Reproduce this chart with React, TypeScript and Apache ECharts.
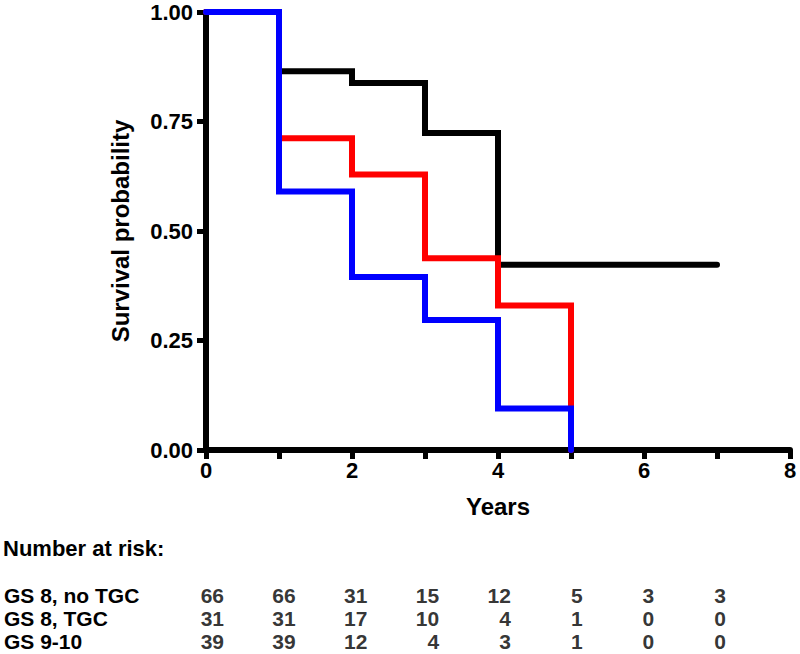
import React, { useEffect, useRef } from "react";
import * as echarts from "echarts";

// Kaplan-Meier step data (years, survival probability)
const groups = ["GS 8, no TGC", "GS 8, TGC", "GS 9-10"];
const groupColors = ["#000000", "#ff0000", "#0000ff"];

const timesNoTGC = [0, 1, 2, 3, 4, 7];
const survNoTGC = [1, 0.865, 0.838, 0.724, 0.423, 0.423];

const timesTGC = [0, 1, 2, 3, 4, 5];
const survTGC = [1, 0.712, 0.629, 0.438, 0.33, 0];

const times910 = [0, 1, 2, 3, 4, 5];
const surv910 = [1, 0.59, 0.395, 0.297, 0.095, 0];

// Number at risk table
const riskYears = [0, 1, 2, 3, 4, 5, 6, 7];
const riskNoTGC = [66, 66, 31, 15, 12, 5, 3, 3];
const riskTGC = [31, 31, 17, 10, 4, 1, 0, 0];
const risk910 = [39, 39, 12, 4, 3, 1, 0, 0];

const xTicks = [0, 2, 4, 6, 8];

const FONT = "'Liberation Sans', Arial, Helvetica, sans-serif";

export default function App() {
  const ref = useRef<HTMLDivElement>(null);

  useEffect(() => {
    document.body.style.margin = "0";
    if (!ref.current) return;
    const chart = echarts.init(ref.current, undefined, { renderer: "svg" });

    const curves = [
      [timesNoTGC, survNoTGC],
      [timesTGC, survTGC],
      [times910, surv910],
    ];
    const riskRows = [riskNoTGC, riskTGC, risk910];

    const lineSeries = curves.map(([t, s], i) => ({
      type: "line",
      name: groups[i],
      xAxisIndex: 0,
      yAxisIndex: 0,
      step: "end",
      showSymbol: false,
      symbol: "none",
      clip: false,
      silent: true,
      data: (t as number[]).map((x, k) => [x, (s as number[])[k]]),
      lineStyle: { color: groupColors[i], width: 6, cap: "round", join: "miter" },
      itemStyle: { color: groupColors[i] },
      z: 3 + i,
    }));

    const tableData: any[] = [];
    riskRows.forEach((row, g) => {
      row.forEach((v, k) => tableData.push([riskYears[k], g, v]));
    });

    const labelStyle = {
      color: "#000",
      fontFamily: FONT,
      fontWeight: "bold" as const,
      fontSize: 22,
    };
    const tableStyle = { ...labelStyle, fontSize: 21, lineHeight: 21 };

    chart.setOption({
      animation: false,
      backgroundColor: "#ffffff",
      grid: [
        { left: 206, top: 12, width: 584, height: 438 },
        { left: 224, top: 584, width: 502, height: 69 },
      ],
      xAxis: [
        {
          gridIndex: 0,
          type: "value",
          min: 0,
          max: 8,
          interval: 1,
          axisLine: { show: true, lineStyle: { color: "#000", width: 6 } },
          axisTick: { show: true, length: 9, lineStyle: { color: "#000", width: 5 } },
          axisLabel: {
            ...labelStyle,
            margin: 9,
            formatter: (v: number) => (xTicks.includes(v) ? String(v) : ""),
          },
          splitLine: { show: false },
          name: "Years",
          nameLocation: "middle",
          nameGap: 44,
          nameTextStyle: { ...labelStyle, fontSize: 24 },
        },
        {
          gridIndex: 1,
          type: "value",
          min: 0,
          max: 7,
          show: false,
        },
      ],
      yAxis: [
        {
          gridIndex: 0,
          type: "value",
          min: 0,
          max: 1,
          interval: 0.25,
          axisLine: { show: true, lineStyle: { color: "#000", width: 6 } },
          axisTick: { show: true, length: 9, lineStyle: { color: "#000", width: 5 } },
          axisLabel: {
            ...labelStyle,
            margin: 13,
            formatter: (v: number) => v.toFixed(2),
          },
          splitLine: { show: false },
          name: "Survival probability",
          nameLocation: "middle",
          nameGap: 74,
          nameTextStyle: { ...labelStyle, fontSize: 24 },
        },
        {
          gridIndex: 1,
          type: "category",
          data: groups,
          inverse: true,
          axisLine: { show: false },
          axisTick: { show: false },
          splitLine: { show: false },
          axisLabel: { ...tableStyle, interval: 0, align: "left", margin: 220 },
        },
      ],
      graphic: [
        {
          type: "text",
          left: 3,
          top: 537,
          style: {
            text: "Number at risk:",
            fill: "#000",
            font: `bold 22px ${FONT}`,
          },
        },
      ],
      series: [
        ...lineSeries,
        {
          type: "scatter",
          xAxisIndex: 1,
          yAxisIndex: 1,
          symbolSize: 0,
          silent: true,
          data: tableData,
          labelLayout: { hideOverlap: false },
          label: {
            show: true,
            position: [0, 0],
            align: "right",
            verticalAlign: "middle",
            ...tableStyle,
            formatter: (p: any) => String(p.value[2]),
          },
        },
      ],
    });

    return () => chart.dispose();
  }, []);

  return <div ref={ref} style={{ width: 800, height: 654 }} />;
}
